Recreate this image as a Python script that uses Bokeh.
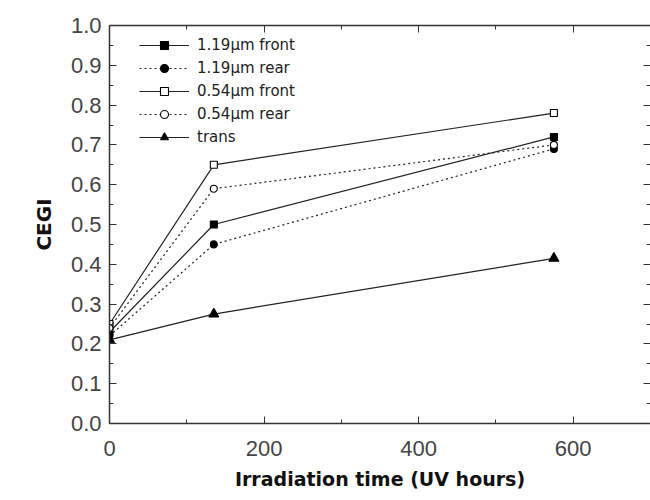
from bokeh.plotting import figure
from bokeh.models import (Range1d, LinearAxis, FixedTicker, Legend, LegendItem,
                          CustomJSTickFormatter)
from bokeh.embed import file_html
from bokeh.resources import INLINE

# Irradiation time (UV hours) and CEGI for each sample
hours = [0, 135, 575]
front_119 = [0.23, 0.50, 0.72]
rear_119 = [0.22, 0.45, 0.69]
front_054 = [0.25, 0.65, 0.78]
rear_054 = [0.24, 0.59, 0.70]
trans = [0.21, 0.275, 0.415]

x_ticks = [0, 200, 400, 600]
x_minor = [100, 300, 500, 700]
y_ticks = [round(0.1 * i, 1) for i in range(11)]
y_minor = [round(0.05 + 0.1 * i, 2) for i in range(10)]

TICK_FONT = "Liberation Sans"
LABEL_FONT = "DejaVu Sans"

p = figure(width=650, height=500, output_backend="svg", toolbar_location=None,
           x_range=Range1d(0, 700), y_range=Range1d(0, 1.0),
           min_border_left=109, min_border_right=0, min_border_top=25, min_border_bottom=77)
p.grid.visible = False
p.outline_line_color = None
p.background_fill_color = "white"
p.border_fill_color = "white"

blank = CustomJSTickFormatter(code="return '';")

def style_axis(ax, major, minor, labels=True):
    ax.ticker = FixedTicker(ticks=major, minor_ticks=minor)
    ax.major_tick_in = 7
    ax.major_tick_out = 0
    ax.minor_tick_in = 4
    ax.minor_tick_out = 0
    ax.axis_line_color = "#333333"
    ax.major_tick_line_color = "#333333"
    ax.minor_tick_line_color = "#333333"
    ax.axis_line_width = 1.5
    if labels:
        ax.major_label_text_font = TICK_FONT
        ax.major_label_text_font_size = "22px"
        ax.major_label_text_color = "#444444"
        ax.axis_label_text_font = LABEL_FONT
        ax.axis_label_text_font_size = "19px"
        ax.axis_label_text_font_style = "bold"
        ax.axis_label_text_color = "#111111"
    else:
        ax.formatter = blank
        ax.major_label_standoff = 0

xa = p.xaxis[0]
ya = p.yaxis[0]
style_axis(xa, x_ticks, x_minor)
style_axis(ya, y_ticks, y_minor)
xa.axis_label = "Irradiation time (UV hours)"
ya.axis_label = "CEGI"
ya.axis_label_text_font_size = "20px"
xa.major_label_standoff = 17
ya.major_label_standoff = 8
xa.axis_label_standoff = 9
ya.axis_label_standoff = 12
ya.formatter = CustomJSTickFormatter(code="return tick.toFixed(1);")

top = LinearAxis()
style_axis(top, x_ticks, x_minor, labels=False)
p.add_layout(top, "above")
right = LinearAxis()
style_axis(right, y_ticks, y_minor, labels=False)
right.axis_line_color = None
p.add_layout(right, "right")

series = [
    ("1.19\u03bcm front", front_119, "solid", "square", "black"),
    ("1.19\u03bcm rear", rear_119, "2 3", "circle", "black"),
    ("0.54\u03bcm front", front_054, "solid", "square", "white"),
    ("0.54\u03bcm rear", rear_054, "2 3", "circle", "white"),
    ("trans", trans, "solid", "triangle", "black"),
]

items = []
for label, vals, dash, marker, fill in series:
    ln = p.line(hours, vals, line_color="#222222", line_width=1.2, line_dash=dash)
    sc = p.scatter(hours, vals, marker=marker, size=7 if marker != "triangle" else 10,
                   fill_color=fill, line_color="black", line_width=1.1)
    items.append(LegendItem(label=label, renderers=[ln, sc]))

legend = Legend(items=items, location=(30, 276))
legend.border_line_color = None
legend.background_fill_alpha = 0
legend.label_text_font = LABEL_FONT
legend.label_text_font_size = "15px"
legend.label_text_color = "#222222"
legend.glyph_width = 50
legend.glyph_height = 20
legend.spacing = 3
legend.label_standoff = 8
legend.padding = 0
legend.margin = 0
p.add_layout(legend, "center")

open("out.html", "w").write(file_html(p, INLINE))
